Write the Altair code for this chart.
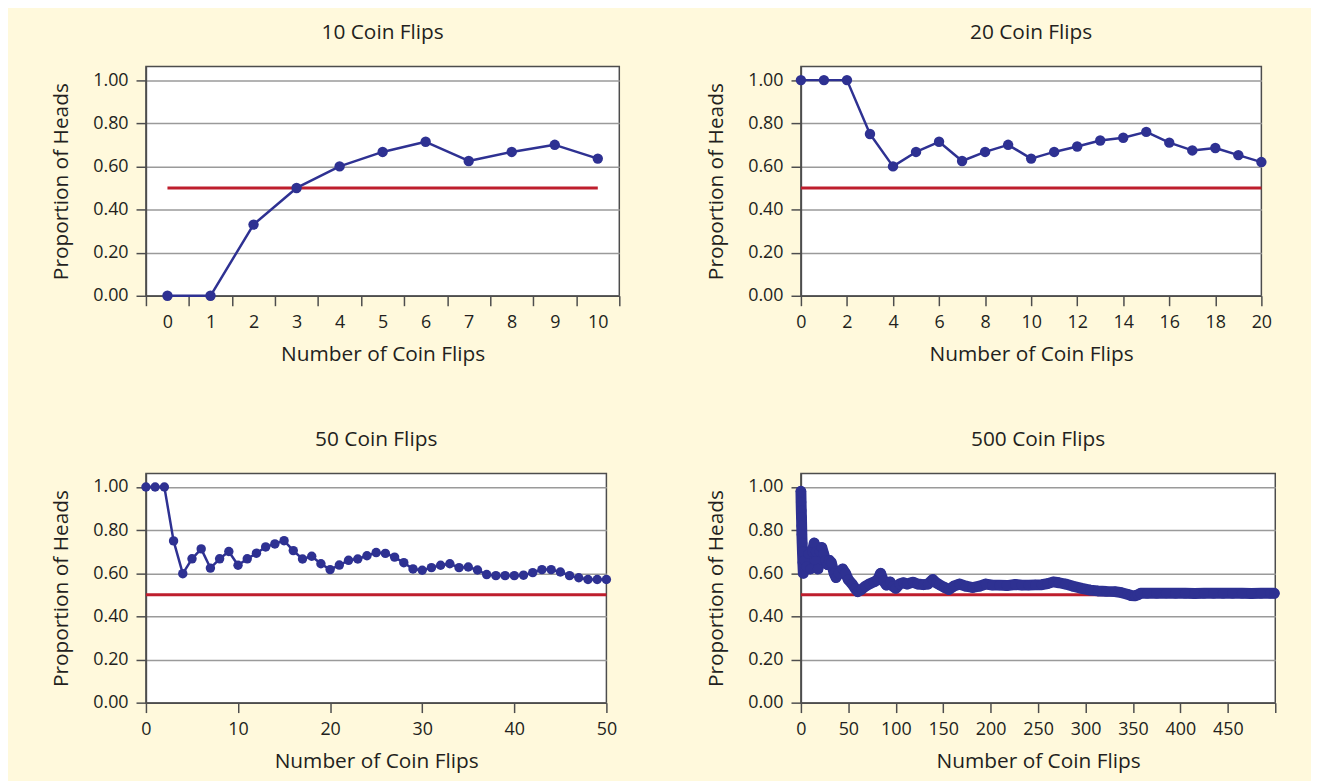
import altair as alt
import pandas as pd

BLUE = "#2E3192"
RED = "#BE1E2D"
FONT = "Open Sans"
TEXT = "#231F20"

# ---- data ----
flips10_x = list(range(11))
flips10_y = [0.0, 0.0, 0.33, 0.50, 0.60, 0.667, 0.714, 0.625, 0.667, 0.70, 0.636]

flips20_x = list(range(21))
flips20_y = [1.0, 1.0, 1.0, 0.75, 0.60, 0.667, 0.714, 0.625, 0.667, 0.70, 0.636,
             0.667, 0.692, 0.72, 0.733, 0.76, 0.71, 0.674, 0.685, 0.652, 0.62]

flips50_x = list(range(51))
flips50_y = [1.0, 1.0, 1.0, 0.75, 0.598, 0.667, 0.713, 0.624, 0.667, 0.701, 0.637,
             0.667, 0.693, 0.722, 0.736, 0.751, 0.705, 0.666, 0.679, 0.644, 0.617,
             0.638, 0.660, 0.666, 0.681, 0.696, 0.692, 0.675, 0.649, 0.620, 0.614,
             0.626, 0.637, 0.644, 0.626, 0.629, 0.615, 0.594, 0.589, 0.589, 0.589,
             0.591, 0.603, 0.617, 0.617, 0.606, 0.589, 0.579, 0.571, 0.571, 0.571]

flips500_x = [0, 0.2, 0.4, 0.6, 0.8, 1.0, 1.3, 1.6, 2, 2.5,
              4, 6, 8, 10, 12, 14, 16, 18, 20, 22,
              24, 26, 28, 30, 32, 35, 37, 40, 44, 47,
              50, 54, 57, 60, 64, 68, 72, 77, 81, 84,
              87, 90, 94, 97, 100, 104, 108, 112, 118, 123,
              129, 134, 139, 143, 146, 151, 156, 161, 167, 174,
              181, 188, 195, 202, 209, 217, 226, 233, 240, 247,
              254, 260, 266, 272, 279, 287, 296, 305, 313, 322,
              331, 338, 344, 348, 352, 355, 358,
              365, 375, 385, 395, 405, 415, 425, 435, 445, 455,
              465, 475, 485, 495, 499]
flips500_y = [0.98, 0.93, 0.89, 0.86, 0.82, 0.78, 0.74, 0.70, 0.65, 0.60,
              0.66, 0.63, 0.69, 0.62, 0.70, 0.74, 0.70, 0.62, 0.70, 0.72,
              0.69, 0.66, 0.64, 0.66, 0.65, 0.60, 0.58, 0.60, 0.62, 0.60,
              0.57, 0.55, 0.53, 0.515, 0.525, 0.54, 0.55, 0.56, 0.57, 0.60,
              0.565, 0.545, 0.56, 0.54, 0.53, 0.55, 0.556, 0.55, 0.559, 0.55,
              0.547, 0.55, 0.571, 0.555, 0.547, 0.535, 0.525, 0.54, 0.55, 0.54,
              0.534, 0.54, 0.55, 0.545, 0.545, 0.543, 0.548, 0.545, 0.545, 0.546,
              0.547, 0.552, 0.56, 0.556, 0.55, 0.54, 0.53, 0.522, 0.518, 0.516,
              0.515, 0.51, 0.503, 0.497, 0.495, 0.50, 0.507,
              0.507, 0.507, 0.508, 0.507, 0.507, 0.506, 0.507, 0.507, 0.507, 0.507,
              0.507, 0.506, 0.507, 0.507, 0.507]

expected = 0.5
y_ticks = [0, 0.2, 0.4, 0.6, 0.8, 1.0]
Y_MAX = 1.063


def panel(title, xs, ys, x_domain, x_axis, rule_from, rule_to, width,
          height=231, dot=110, line_w=2.5):
    df = pd.DataFrame({"x": xs, "y": ys})
    rule_df = pd.DataFrame({"x": [rule_from], "x2": [rule_to], "y": [expected]})
    xscale = alt.Scale(domain=x_domain, nice=False, zero=False)
    yscale = alt.Scale(domain=[0, Y_MAX], nice=False)
    y_axis = alt.Axis(values=y_ticks, format=".2f", title="Proportion of Heads",
                      grid=True)
    rule = alt.Chart(rule_df).mark_rule(color=RED, strokeWidth=3).encode(
        x=alt.X("x:Q", scale=xscale, axis=x_axis),
        x2="x2:Q",
        y=alt.Y("y:Q", scale=yscale, axis=y_axis),
    )
    line = alt.Chart(df).mark_line(color=BLUE, strokeWidth=line_w,
                                   strokeCap="round", strokeJoin="round").encode(
        x=alt.X("x:Q", scale=xscale, axis=x_axis),
        y=alt.Y("y:Q", scale=yscale, axis=y_axis),
    )
    pts = alt.Chart(df).mark_circle(color=BLUE, opacity=1, size=dot).encode(
        x=alt.X("x:Q", scale=xscale, axis=x_axis),
        y=alt.Y("y:Q", scale=yscale, axis=y_axis),
    )
    return alt.layer(rule, line, pts).properties(
        title=title, width=width, height=height)


common = dict(title="Number of Coin Flips", grid=False, labelFlush=False,
              labelOverlap=False)

# 10 flips: ticks on category boundaries, labels at centres
ax10 = alt.Axis(values=[v / 2 for v in range(-1, 22)],
                labelExpr="datum.value % 1 === 0 ? format(datum.value, 'd') : ''",
                tickOpacity={"condition": {"test": "datum.value % 1 === 0", "value": 0},
                             "value": 1},
                **common)
ax20 = alt.Axis(values=list(range(0, 21, 2)), format="d", **common)
ax50 = alt.Axis(values=list(range(0, 51, 10)), format="d", **common)
ax500 = alt.Axis(values=list(range(0, 501, 50)),
                 labelExpr="datum.value < 500 ? format(datum.value, 'd') : ''",
                 **common)

p1 = panel("10 Coin Flips", flips10_x, flips10_y, [-0.5, 10.5], ax10, 0, 10, 477)
p2 = panel("20 Coin Flips", flips20_x, flips20_y, [0, 20], ax20, 0, 20, 464)
p3 = panel("50 Coin Flips", flips50_x, flips50_y, [0, 50], ax50, 0, 50, 464, dot=90)
p4 = panel("500 Coin Flips", flips500_x, flips500_y, [0, 500], ax500, 0, 500, 478,
           dot=110, line_w=11)

row1 = alt.hconcat(p1, p2, spacing=84)
row2 = alt.hconcat(p3, p4, spacing=87)

chart = alt.vconcat(row1, row2, spacing=63).properties(
    background="#FFF9DC",
    padding={"left": 42, "top": 10, "right": 30, "bottom": 10},
).configure_view(
    fill="white", stroke="#4D4D4D", strokeWidth=1.5
).configure_axis(
    labelFont=FONT, titleFont=FONT, labelFontSize=18, titleFontSize=21,
    labelColor=TEXT, titleColor=TEXT, titleFontWeight="normal",
    domainColor="#4D4D4D", domainWidth=1.5, tickColor="#4D4D4D", tickWidth=1.5,
    tickSize=10, gridColor="#9A9A9A", gridWidth=1.5, labelPadding=8,
    titlePadding=12,
).configure_axisY(
    titlePadding=21,
).configure_title(
    font=FONT, fontSize=21, fontWeight="normal", color=TEXT, offset=24,
    anchor="middle",
)

chart.save("out.html", embed_options={"renderer": "svg", "actions": False})
